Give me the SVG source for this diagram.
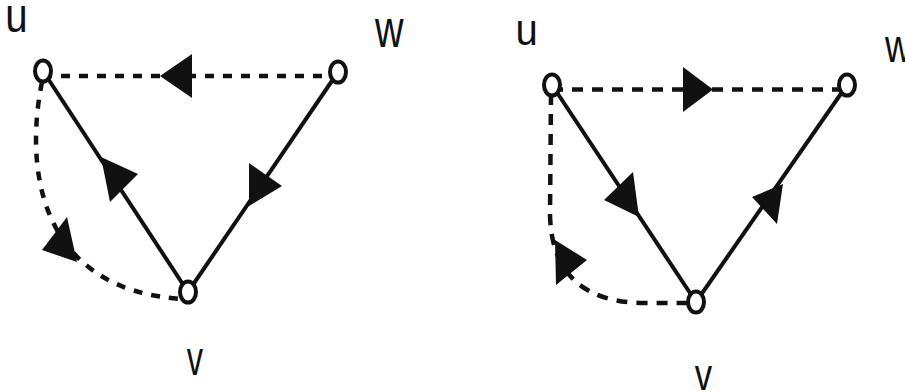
<svg xmlns="http://www.w3.org/2000/svg" width="905" height="392" viewBox="0 0 905 392">
<style>
.bg{fill:#fff}
.solid{fill:none;stroke:#111;stroke-width:4}
.dashL{fill:none;stroke:#111;stroke-width:4.5;stroke-dasharray:9 9}
.dashR{fill:none;stroke:#111;stroke-width:4.5;stroke-dasharray:11 9}
.ah{fill:#111;stroke:none}
.node{fill:#fff;stroke:#111;stroke-width:4}
.lbl{font-family:"Liberation Sans",Arial,sans-serif;fill:#111}
</style>
<rect class="bg" x="0" y="0" width="905" height="392"/>
<g id="connectors">
  <path class="dashL" d="M43,76 L338,76"/>
  <path class="solid" d="M43,71 L188,292"/>
  <path class="solid" d="M338,72 L188,292"/>
  <path class="dashL" d="M42,82 C24,170 40,290 182,299"/>
  <polygon class="ah" points="160,76 192,54 192,98"/>
  <polygon class="ah" points="101,157 138,174 110,202"/>
  <polygon class="ah" points="249,206 249,163 282,186"/>
  <polygon class="ah" points="77,262 67,217 42,250"/>
  <path class="dashR" d="M552,89.5 L847,89.5"/>
  <path class="solid" d="M552,85 L696,302"/>
  <path class="solid" d="M696,302 L847,85"/>
  <path class="dashR" d="M551,94 L550,215 Q552,300 640,303 L692,303"/>
  <polygon class="ah" points="713,89.5 683,67 683,112"/>
  <polygon class="ah" points="639,217 633,172 604,200"/>
  <polygon class="ah" points="783,184 752,197 777,224"/>
  <polygon class="ah" points="555,240 587,260 556,285"/>
</g>
<g id="node-u1">
  <ellipse class="node" cx="43" cy="71" rx="8" ry="10.5"/>
  <text class="lbl" font-size="48" transform="translate(5.3,32) scale(0.84,1)">u</text>
</g>
<g id="node-w1">
  <ellipse class="node" cx="338" cy="72" rx="8" ry="10.5"/>
  <text class="lbl" font-size="52" transform="translate(374.9,47) scale(0.76,1)">w</text>
</g>
<g id="node-v1">
  <ellipse class="node" cx="188" cy="292" rx="8" ry="10.5"/>
  <text class="lbl" font-size="48" transform="translate(186.8,375) scale(0.68,1)">v</text>
</g>
<g id="node-u2">
  <ellipse class="node" cx="552" cy="85" rx="8" ry="10.5"/>
  <text class="lbl" font-size="44" transform="translate(515.4,45) scale(0.91,1)">u</text>
</g>
<g id="node-w2">
  <ellipse class="node" cx="847" cy="85" rx="8" ry="10.5"/>
  <text class="lbl" font-size="46" transform="translate(885,62) scale(0.8,1)">w</text>
</g>
<g id="node-v2">
  <ellipse class="node" cx="696" cy="302" rx="8" ry="10.5"/>
  <text class="lbl" font-size="44" transform="translate(694.8,390) scale(0.79,1)">v</text>
</g>
</svg>
